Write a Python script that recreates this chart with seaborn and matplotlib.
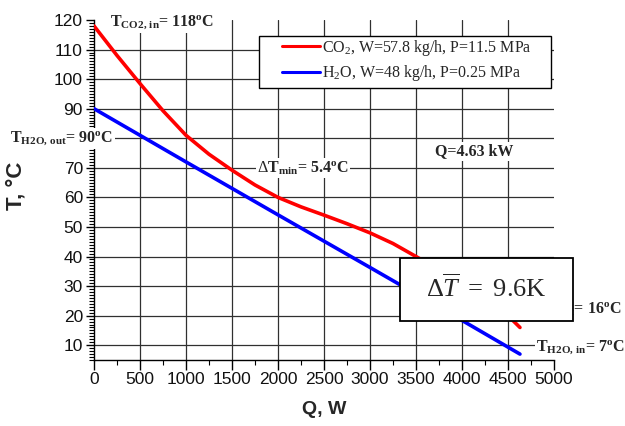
import numpy as np
import pandas as pd
import matplotlib
matplotlib.use("Agg")
import matplotlib.pyplot as plt
from matplotlib.ticker import MultipleLocator
import seaborn as sns

# ---- data ----
q_co2 = [0, 250, 500, 750, 1000, 1250, 1500, 1750, 2000, 2250, 2500, 2750,
         3000, 3250, 3500, 3750, 4000, 4250, 4500, 4630]
t_co2 = [118, 108, 98.5, 89.3, 81, 74.6, 69.2, 64.2, 60, 56.8, 54, 51.1,
         48, 44.4, 40, 35.5, 31, 25.8, 20, 16]
q_h2o = [0, 1000, 2000, 3000, 4000, 4630]
t_h2o = [90, 72, 54.1, 36.3, 18.4, 7]
label_co2 = r"CO$_2$, W=57.8 kg/h, P=11.5 MPa"
label_h2o = r"H$_2$O, W=48 kg/h, P=0.25 MPa"
x_ticks = [0, 500, 1000, 1500, 2000, 2500, 3000, 3500, 4000, 4500, 5000]
y_ticks = [10, 20, 30, 40, 50, 60, 70, 80, 90, 100, 110, 120]
y_tick_labels = ["10", "20", "30", "40", "50", "60", "70", "", "90", "100", "110", "120"]

df = pd.concat([
    pd.DataFrame({"Q": q_co2, "T": t_co2, "s": label_co2}),
    pd.DataFrame({"Q": q_h2o, "T": t_h2o, "s": label_h2o}),
])

sns.set_theme(style="ticks")
plt.rcParams["font.family"] = ["Liberation Sans", "DejaVu Sans"]
plt.rcParams["mathtext.fontset"] = "custom"
plt.rcParams["mathtext.rm"] = "Liberation Serif"
plt.rcParams["mathtext.it"] = "Liberation Serif:italic"
plt.rcParams["mathtext.bf"] = "Liberation Serif:bold"

fig = plt.figure(figsize=(6.25, 4.26), dpi=100)
ax = fig.add_axes([94 / 625, 1 - 360 / 426, 460 / 625, 340 / 426])

sns.lineplot(data=df, x="Q", y="T", hue="s", sort=False, estimator=None,
             palette={label_co2: "#ff0000", label_h2o: "#0000ff"},
             linewidth=2.6, ax=ax, zorder=3)

ax.set_xlim(0, 5000)
ax.set_ylim(5, 120)
ax.set_xticks(x_ticks)
ax.set_yticks(y_ticks)
ax.set_yticklabels(y_tick_labels)
ax.xaxis.set_minor_locator(MultipleLocator(250))
ax.yaxis.set_minor_locator(MultipleLocator(1))
ax.tick_params(axis="both", which="major", labelsize=12.5, colors="black",
               width=1, pad=2)
ax.tick_params(axis="x", which="major", length=7)
ax.tick_params(axis="y", which="major", length=6)
ax.tick_params(axis="both", which="minor", length=3.5, width=0.8, color="black")
for lab in ax.get_xticklabels() + ax.get_yticklabels():
    lab.set_color("#111111")

ax.grid(True, which="major", color="#303030", linewidth=0.9, zorder=0)
ax.set_axisbelow(True)
for t in ax.yaxis.get_major_ticks():
    if abs(t.get_loc() - 120) < 1e-6:
        t.gridline.set_visible(False)
for t in ax.xaxis.get_major_ticks():
    if abs(t.get_loc() - 5000) < 1e-6 or abs(t.get_loc()) < 1e-6:
        t.gridline.set_visible(False)

for s in ["top", "right"]:
    ax.spines[s].set_visible(False)
for s in ["left", "bottom"]:
    ax.spines[s].set_color("black")
    ax.spines[s].set_linewidth(1)

ax.set_xlabel("Q, W", fontsize=14, fontweight="bold")
ax.set_ylabel("T, \u00b0C", fontsize=16, fontweight="bold")
ax.yaxis.set_label_coords(-0.147, 0.512)
ax.xaxis.set_label_coords(0.5, -0.122)

# legend (content from seaborn handles, frame drawn to match reference box)
ax.add_patch(plt.Rectangle((259 / 625, 1 - 88 / 426), 292 / 625, 52 / 426,
                           transform=fig.transFigure, facecolor="white",
                           edgecolor="black", linewidth=1, zorder=4,
                           clip_on=False))
leg = ax.legend(loc="upper left", bbox_to_anchor=((282 - 94) / 460, (360 - 38) / 340),
                borderaxespad=0, frameon=False, borderpad=0,
                prop={"family": "Liberation Serif", "size": 11.5},
                handlelength=2.4, handletextpad=0.1, labelspacing=0.32)
leg.set_zorder(5)
for h in leg.get_lines():
    h.set_linewidth(2.2)

bg = dict(facecolor="white", edgecolor="none", pad=1)
fs = 11.5
tkw = dict(fontsize=fs, fontweight="bold", family="Liberation Serif",
           va="center", zorder=6, clip_on=False, bbox=bg)
ax.text(174, 119.2, r"T$_{\mathbf{CO2,\,in}}$= 118$^{\mathbf{o}}$C", ha="left", **tkw)
ax.text(-910, 80, r"T$_{\mathbf{H2O,\,out}}$= 90$^{\mathbf{o}}$C", ha="left", **tkw)
ax.text(2272, 70, r"$\Delta$T$_{\mathbf{min}}$= 5.4$^{\mathbf{o}}$C", ha="center", **tkw)
ax.text(4136, 75.5, "Q=4.63 kW", ha="center", **tkw)
ax.text(5739, 22.3, r"T$_{\mathbf{CO2,\,out}}$= 16$^{\mathbf{o}}$C", ha="right", **tkw)
ax.text(4804, 9.5, r"T$_{\mathbf{H2O,\,in}}$= 7$^{\mathbf{o}}$C", ha="left", **tkw)

# mean temperature difference box
fig.patches.append(plt.Rectangle((400 / 625, 1 - 321 / 426), 173 / 625, 63 / 426,
                                 transform=fig.transFigure, facecolor="white",
                                 edgecolor="black", linewidth=1.3, zorder=10))
fig.text(486.5 / 625, 1 - 288 / 426, r"$\Delta\overline{T}\ =\ 9.6\mathrm{K}$",
         fontsize=19, ha="center", va="center", zorder=11)

fig.savefig("out.png", dpi=100)
